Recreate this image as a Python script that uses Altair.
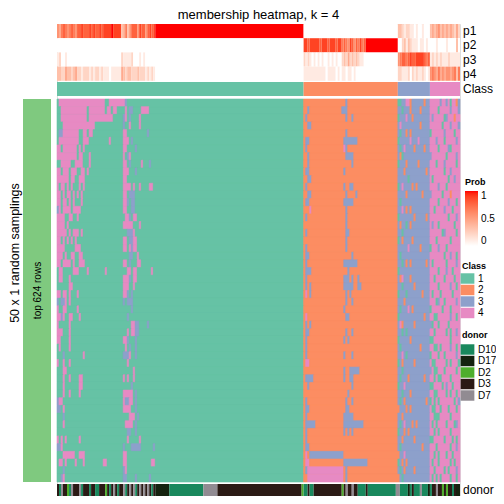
import altair as alt
import pandas as pd

# ---------------- data ----------------
CLASS_NAMES = ["1", "2", "3", "4"]
CLASS_COLORS = ["#66C2A5", "#FC8D62", "#8DA0CB", "#E78AC3"]
CLASS_SIZES = [123, 47, 16, 15]          # samples (columns) per class

DONOR_NAMES = ["D10", "D17", "D2", "D3", "D7"]
DONOR_COLORS = ["#19885D", "#15220F", "#4EAE2D", "#2B1A15", "#918B92"]
DONOR_LETTERS = "abcde"
DONOR = ("daeddcaedd" "deadddadda" "adddcdaded" "addeadedea" "dedededad"
         + "b" * 7 + "a" * 17 + "e" * 7 + "d" * 42 + "c"
         + "aadaad" + "d" * 13 + "c" + "deddedd" + "a" * 4 + "d" + "a" * 14
         + "ee" + "aaaa" + "b" + "a" + "d" + "aaa" + "e" + "aaa" + "b"
         + "addeddcdcddadbb")

PROB_NAMES = ["p1", "p2", "p3", "p4"]
# membership probability per column, digit d -> d/9
P1 = ("5467656765" "7787778787787" "888898888" "34635" "777587757878"
      + "9" * 74 + "0" * 47 + "3321221101001000" + "343453434343242")
P2 = ("0" * 123 + "8878888878887888788" + "676587576867" + "9" * 16
      + "0023132111011010" + "000100001000030")
P3 = ("1200100000" + "0" * 13 + "0" * 9 + "21111" + "200010100000"
      + "0" * 74 + "212" + "1010101001010100" + "232423232110" + "0" * 16
      + "5677678778888767" + "121212111211111")
P4 = ("3322433234" "2212221212212" "111011111" "43233" "222322212121"
      + "0" * 74 + "1111111111101111010" + "110110100000" + "0" * 16
      + "2211120212112101" + "565464545545636")

# main heatmap: deviations from the column's class, "class:from-to" (columns local to block)
MAIN_A = [
    "4:1-11 4:12-23 4:26-33 3:34",
    "4:2-14 4:16-23 4:25-26 4:28-29 4:34 3:36-37 4:42-45",
    "4:2-14 4:16-27 3:33 4:34 3:36 4:41",
    "4:3-18 3:33 4:36 4:41",
    "3:1-2 4:3-10 4:13-14 4:16-17 4:33-34 3:45",
    "4:1-10 4:13-15 4:26 4:33-35 3:37",
    "4:0-1 4:3-9 4:11 4:13 4:33-34 3:39",
    "4:0-1 4:2-9 4:11-12 4:16 4:33 3:35 4:36",
    "4:2-6 4:9-12 4:16 4:33 4:34 3:36 4:42 3:46",
    "4:0-1 4:3-5 4:7 4:8-9 4:12-13 4:15 4:33-35 3:39",
    "4:0-5 4:7-8 4:11-13 4:33-34",
    "4:0 4:2-3 4:5 4:7 4:11 4:13 4:33-34 4:35-36 4:38 4:41 4:46-47",
    "4:0-1 4:3 4:5-6 4:8 4:10 4:12 4:33-34 3:36 3:37-38",
    "4:0-1 4:3-4 4:6 4:8 4:12 4:33-34 3:35 3:37-38",
    "3:0 4:1 4:3-6 4:8-9 4:10-11 4:33-34 3:37-38",
    "4:0-3 4:6-7 4:10 4:34-35 3:36 4:38-39",
    "4:0-3 4:5 4:33 4:34-37 4:41",
    "4:0-4 4:6 4:8-10 4:12 3:35-37 4:38",
    "4:0-1 4:3 4:5 4:7 4:9 4:33-34 3:36-37 4:38-39",
    "4:0-3 4:9-11 4:33-34 4:36 3:37 4:38-39",
    "4:0-2 4:4 4:7-8 4:11-12 3:36-37 4:40",
    "4:0-1 4:3-6 4:8 4:11-13 4:33-34 3:36 4:40-41",
    "4:1-2 4:8-10 4:15 4:24 4:35-36 4:38-39 4:47",
    "4:1-2 4:6 4:33-35 3:36 4:38-39",
    "4:6-7 4:33-35 4:38",
    "4:0-1 4:3-4 4:6 4:10 4:33-34 3:35 3:37",
    "3:0 3:2-3 4:4 4:6 3:33 3:35-36 3:37",
    "4:0 4:3-4 4:10 3:37",
    "4:0-1 3:2 4:3 4:6 4:7 4:11 3:35",
    "4:0 4:6 4:37-38 3:39-40 3:45",
    "4:0-2 4:6 4:35 4:37-38 3:39-40",
    "4:0-1 4:6 4:33-34 3:35 3:39",
    "4:1 4:6 4:34 3:36 3:39",
    "3:3 4:13 3:33-35 4:36 3:39",
    "4:0 4:3 4:6 4:35",
    "4:3-4 4:38",
    "4:3 4:6 4:11-12 4:33 4:35 4:38",
    "4:3 4:11-12 3:37",
    "4:3 4:6 4:11 4:33 4:34 4:35-37 3:39",
    "3:0 4:1-2 4:33 3:34-35 4:36-37 3:39",
    "3:0-1 4:3 4:33-34 4:35-36 3:39",
    "3:3 4:36-38 3:40",
    "4:3 4:34-37 3:39",
    "3:35-36 3:39",
    "4:0 4:2 4:4 4:11 4:35 4:41",
    "3:0-1 4:2 3:33 3:37-38 3:39-41 3:48",
    "4:3-8 4:11-12 4:13 4:33-34",
    "4:1-2 4:4 4:9 4:13 4:23-24 4:33-34 4:47-48",
    "3:3 3:33 4:34",
    "3:2 4:3 3:33-34 3:39 3:46",
]
MAIN_C = [
    "3:21", "3:2 3:19-20 3:21", "3:1 3:21 3:24", "3:2-3", "3:21",
    "3:1-2 3:20-26", "3:1 4:20 3:21", "3:2 3:21-24", "3:2 3:24", "3:1-2 3:20",
    "3:2-3", "3:1 3:20 3:23-24", "3:2 3:3 3:21 3:26", "3:1-2 3:20-22 3:23-24", "4:3 3:21",
    "3:1 3:21", "3:21", "3:1 3:21-22", "3:21", "3:1 3:21",
    "3:1 3:2 3:24", "3:1 3:20-26", "3:1 3:2-3 3:22", "3:1 3:20-22 3:24 3:27", "3:1 3:3 3:20-23 3:24 3:27-28",
    "4:1 3:3 3:21 3:23", "3:21 3:24", "3:20", "4:1 3:21-22", "3:1 3:3",
    "3:1-2 3:21 3:24", "3:1 3:20 3:22", "3:1", "3:1 3:20 3:24", "4:1-2",
    "3:20 3:23-27", "3:1-2 3:3-4 3:20 3:23 3:24", "3:2 3:24", "3:22", "3:1 3:21 3:24",
    "3:1-2 3:21 3:22", "3:1 3:20-24", "3:1-2 3:3-5 3:20-24 3:25-26 3:27-29", "3:1 3:20 3:22 3:24", "3:1",
    "3:1-2", "4:1 3:3-19", "4:1-2 3:20-31", "3:1 4:2-19 3:21", "4:2-19 3:21",
]
# class 3 | class 4 blocks, one class digit per column
MAIN_D = [
    "1133442333333233 444443443414423", "3313332333323333 444414444434443",
    "1333433233333333 434444413444244", "3433333333323333 444444144434443",
    "3133232333333333 144444434444144", "1333334333433333 444344414444434",
    "3134333323333233 444414444314444", "3213333333333333 344444441444434",
    "1333233333233333 444144434444414", "3332333333333323 444444414434444",
    "3333313333333333 414444444144344", "1343333232333333 444434441444444",
    "3333233333332333 344444144424444", "3133333333333333 444414444344414",
    "3343232333333333 441444434441444", "1333333323333323 444444444144434",
    "3233132333333333 434414444444144", "3313333333333333 444444134444414",
    "1323333233333333 444144444414444", "3333343333323333 144434441444444",
    "3133333333333333 444444414434414", "3313232333333323 414444441444434",
    "1333333333333333 444414443441444", "3243332333333333 441444414444144",
    "3313333323333333 444414444434414", "1333133333332333 414441444441444",
    "3332333333333333 444134414444434", "3133343233333333 144444144414444",
    "1333333333333233 441144444434414", "3423333323333333 314414444144444",
    "3313133333333333 441444441414434", "1333332333333333 114444444414444",
    "3133333333323333 441141444434414", "3343133333333333 144414414444434",
    "1323333323333333 411444441414441", "3313333333333333 341144414444414",
    "3133323333333233 441411444414444", "1334333333333333 114444143441444",
    "3313332333333333 441144441414414", "3132333333333323 141414444444143",
    "2333232333333333 411441444144414", "3323333333333333 441114444414444",
    "3134333232333333 414144441444134", "1332323333333333 441414444414444",
    "3323333323333333 114444414441414", "3133333333332333 444144444414434",
    "2334333333333333 441414441441444", "1323233333333333 414414444414144",
    "3132333323333333 441444414144434", "2313333333333333 414141444414414",
]

# ---------------- layout (px) ----------------
W, H = 403, 472
P_H = 14.2
CLS_Y = (58, 72)
MAIN_Y = (75, 458)
DONOR_Y = (460, 472)
N = sum(CLASS_SIZES)
NR = len(MAIN_A)
FONT = "Liberation Sans"


def runs(seq):
    out, start = [], 0
    for i in range(1, len(seq) + 1):
        if i == len(seq) or seq[i] != seq[start]:
            out.append((start, i, seq[start]))
            start = i
    return out


def fit(s, n, fill):
    return (s + fill * n)[:n]


base = []
for name, n in zip(CLASS_NAMES, CLASS_SIZES):
    base += [name] * n
OFF_C = CLASS_SIZES[0]
OFF_D = CLASS_SIZES[0] + CLASS_SIZES[1]


def apply(row, spec, off):
    for tok in spec.split():
        k, rng = tok.split(":")
        if "-" in rng:
            a, b = map(int, rng.split("-"))
        else:
            a = b = int(rng)
        for c in range(a, b + 1):
            row[off + c] = k


color_of = dict(zip(CLASS_NAMES, CLASS_COLORS))

# prob table
prob_rows = []
for i, s in enumerate([P1, P2, P3, P4]):
    vals = [int(ch) for ch in fit(s, N, "0")]
    for a, b, v in runs(vals):
        prob_rows.append({"x0": a, "x1": b, "y0": i * P_H, "y1": (i + 1) * P_H, "prob": v / 9})
prob_df = pd.DataFrame(prob_rows)

cls_runs = runs(base)
cls_df = pd.DataFrame([{"x0": a, "x1": b, "y0": CLS_Y[0], "y1": CLS_Y[1], "cls": v}
                       for a, b, v in cls_runs])
# background of the body (column class colour) so row seams do not show
body_bg_df = pd.DataFrame([{"x0": a, "x1": b, "y0": MAIN_Y[0], "y1": MAIN_Y[1], "hex": color_of[v]}
                           for a, b, v in cls_runs])

dmap = dict(zip(DONOR_LETTERS, DONOR_NAMES))
donor_seq = [dmap[ch] for ch in fit(DONOR, N, "d")]
donor_df = pd.DataFrame([{"x0": a, "x1": b, "y0": DONOR_Y[0], "y1": DONOR_Y[1], "donor": v}
                         for a, b, v in runs(donor_seq)])

rh = (MAIN_Y[1] - MAIN_Y[0]) / NR
main_rows = []
for r in range(NR):
    row = list(base)
    apply(row, MAIN_A[r], 0)
    apply(row, MAIN_C[r], OFF_C)
    p3, p4 = MAIN_D[r].split()
    d = fit(p3, CLASS_SIZES[2], "3") + fit(p4, CLASS_SIZES[3], "4")
    for j, ch in enumerate(d):
        row[OFF_D + j] = ch
    for a, b, v in runs(row):
        main_rows.append({"x0": a, "x1": b, "y0": MAIN_Y[0] + r * rh,
                          "y1": MAIN_Y[0] + (r + 1) * rh, "hex": color_of[v]})
main_df = pd.DataFrame(main_rows)

# ---------------- chart ----------------
xs = alt.Scale(domain=[0, N], nice=False, zero=False)
ys = alt.Scale(domain=[0, H], nice=False, zero=False, reverse=True)


def rect_enc():
    return dict(x=alt.X("x0:Q", scale=xs, axis=None), x2=alt.X2("x1"),
                y=alt.Y("y0:Q", scale=ys, axis=None), y2=alt.Y2("y1"))


LEG = dict(orient="none", titleFontSize=9, titleFontWeight="bold", labelFontSize=10,
           titleFont=FONT, labelFont=FONT, padding=0, titleAnchor="start",
           titleColor="black", labelColor="black")
SYM = "M-1.25,-0.95H1.25V0.95H-1.25Z"

prob = alt.Chart(prob_df).mark_rect().encode(
    color=alt.Color("prob:Q",
                    scale=alt.Scale(domain=[0, 1], range=["#FFFFFF", "#FF0000"], interpolate="lab"),
                    legend=alt.Legend(title="Prob", legendX=408, legendY=154, values=[0, 0.5, 1],
                                      format="~g", gradientLength=55, gradientThickness=13,
                                      titlePadding=4, labelOffset=3, direction="vertical",
                                      labelBaseline="middle", gradientStrokeWidth=0, **LEG)),
    **rect_enc())

cls = alt.Chart(cls_df).mark_rect().encode(
    color=alt.Color("cls:N", scale=alt.Scale(domain=CLASS_NAMES, range=CLASS_COLORS),
                    legend=alt.Legend(title="Class", legendX=405, legendY=238, symbolType=SYM,
                                      symbolSize=121, symbolStrokeWidth=0, rowPadding=0.5,
                                      labelOffset=5, titlePadding=2, **LEG)),
    **rect_enc())

body_bg = alt.Chart(body_bg_df).mark_rect().encode(
    color=alt.Color("hex:N", scale=None), **rect_enc())

main = alt.Chart(main_df).mark_rect(strokeWidth=0.6).encode(
    color=alt.Color("hex:N", scale=None),
    stroke=alt.Stroke("hex:N", scale=None),
    **rect_enc())

donor = alt.Chart(donor_df).mark_rect().encode(
    color=alt.Color("donor:N", scale=alt.Scale(domain=DONOR_NAMES, range=DONOR_COLORS),
                    legend=alt.Legend(title="donor", legendX=405, legendY=307, symbolType=SYM,
                                      symbolSize=121, symbolStrokeWidth=0, rowPadding=0.5,
                                      labelOffset=5, titlePadding=4, **LEG)),
    **rect_enc())

lab_df = pd.DataFrame({
    "label": PROB_NAMES + ["Class", "donor"],
    "yc": [(i + 0.5) * P_H for i in range(4)] + [sum(CLS_Y) / 2, sum(DONOR_Y) / 2],
})
labels = alt.Chart(lab_df).mark_text(font=FONT, fontSize=12, align="left", baseline="middle",
                                     color="black").encode(
    x=alt.value(W + 3), y=alt.Y("yc:Q", scale=ys, axis=None), text="label:N")

bar_df = pd.DataFrame({"y0": [MAIN_Y[0]], "y1": [MAIN_Y[1]]})
green = alt.Chart(bar_df).mark_rect(color="#7FC97F").encode(
    x=alt.value(-34), x2=alt.value(-6),
    y=alt.Y("y0:Q", scale=ys, axis=None), y2=alt.Y2("y1"))

top_df = pd.DataFrame({"t": ["top 624 rows"], "yc": [sum(MAIN_Y) / 2]})
top_t = alt.Chart(top_df).mark_text(font=FONT, fontSize=10, angle=270, align="center",
                                    baseline="middle", color="black").encode(
    x=alt.value(-19), y=alt.Y("yc:Q", scale=ys, axis=None), text="t:N")

side_df = pd.DataFrame({"t": ["50 x 1 random samplings"], "yc": [(0 + MAIN_Y[1]) / 2]})
side_t = alt.Chart(side_df).mark_text(font=FONT, fontSize=12.5, angle=270, align="center",
                                      baseline="middle", color="black").encode(
    x=alt.value(-42), y=alt.Y("yc:Q", scale=ys, axis=None), text="t:N")

title_df = pd.DataFrame({"t": ["membership heatmap, k = 4"]})
title_t = alt.Chart(title_df).mark_text(font=FONT, fontSize=13, align="center",
                                        baseline="middle", color="black").encode(
    x=alt.value(W / 2), y=alt.value(-9), text="t:N")

chart = alt.layer(green, prob, cls, body_bg, main, donor, labels, top_t, side_t, title_t).properties(
    width=W, height=H,
    autosize=alt.AutoSizeParams(type="none"),
    padding={"left": 49, "top": 16, "right": 36, "bottom": 0},
).resolve_scale(color="independent").configure_view(strokeWidth=0).configure(background="white")

chart.save("out.html", embed_options={"renderer": "svg", "actions": False})
